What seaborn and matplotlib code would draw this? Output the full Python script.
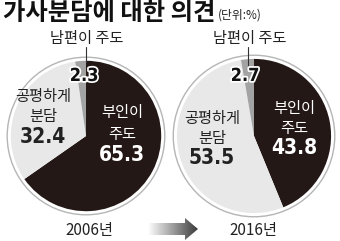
import matplotlib
matplotlib.use("Agg")
import matplotlib.pyplot as plt
import seaborn as sns
import numpy as np
from matplotlib.patches import Circle, Polygon
import matplotlib.patheffects as pe

sns.set_theme(style="white")
plt.rcParams['font.family'] = ['Noto Sans CJK KR', 'DejaVu Sans']

# Data
categories = ["부인이 주도", "공평하게 분담", "남편이 주도"]
years = ["2006년", "2016년"]
values_2006 = [65.3, 32.4, 2.3]
values_2016 = [43.8, 53.5, 2.7]
title = "가사분담에 대한 의견"
unit = "(단위:%)"

colors = ["#231815", "#e8e8e8", "#a3a3a3"]
W, H = 340, 241
fig = plt.figure(figsize=(W / 100, H / 100), dpi=100)
fig.patch.set_facecolor("white")

KR = ['Noto Sans CJK KR', 'DejaVu Sans']
NUM = dict(family='DejaVu Sans', fontstretch='condensed', fontweight='bold')


def pie_axes(cx, cy, r):
    ax = fig.add_axes([(cx - r) / W, (H - cy - r) / H, 2 * r / W, 2 * r / H])
    ax.set_xlim(-1, 1)
    ax.set_ylim(-1, 1)
    ax.set_aspect("equal")
    ax.axis("off")
    return ax


for vals, (cx, cy, r) in zip([values_2006, values_2016], [(86, 136, 80), (254, 136, 82)]):
    ax = pie_axes(cx, cy, r)
    ax.add_patch(Circle((0, 0), 0.985, facecolor="white", edgecolor="#b5b5b5", lw=1.0, zorder=0))
    ax.pie(vals, colors=colors, startangle=90, counterclock=False, radius=0.94,
           wedgeprops=dict(edgecolor="none"))
    ax.set_xlim(-1, 1)
    ax.set_ylim(-1, 1)

# overlay for text in pixel coordinates
ov = fig.add_axes([0, 0, 1, 1], zorder=10)
ov.set_xlim(0, W)
ov.set_ylim(H, 0)
ov.axis("off")
ov.patch.set_alpha(0)

ov.text(3, 13, title, fontsize=17.5, fontweight="heavy", family=KR, ha="left", va="center", color="#111")
ov.text(218, 15, unit, fontsize=8.5, family=KR, ha="left", va="center", color="#222")

stroke = [pe.withStroke(linewidth=2.5, foreground="white")]

# left pie labels
ov.text(87, 39, categories[2], fontsize=11, family=KR, ha="center", va="center", color="#222")
ov.plot([86, 86], [47, 62], color="#333", lw=0.8)
ov.text(84, 76, f"{values_2006[2]}", fontsize=13, **NUM, ha="center",
        va="center", color="#111", path_effects=stroke)
ov.text(43, 97, "공평하게", fontsize=11, family=KR, ha="center", va="center", color="#222")
ov.text(43, 117, "분담", fontsize=11, family=KR, ha="center", va="center", color="#222")
ov.text(43, 137, f"{values_2006[1]}", fontsize=15, **NUM, ha="center",
        va="center", color="#222")
ov.text(122, 113, "부인이", fontsize=11, family=KR, ha="center", va="center", color="white")
ov.text(122, 134, "주도", fontsize=11, family=KR, ha="center", va="center", color="white")
ov.text(122, 155, f"{values_2006[0]}", fontsize=15, **NUM, ha="center",
        va="center", color="white")

# right pie labels
ov.text(250, 39, categories[2], fontsize=11, family=KR, ha="center", va="center", color="#222")
ov.plot([248, 248], [47, 66], color="#333", lw=0.8)
ov.text(245, 76, f"{values_2016[2]}", fontsize=13, **NUM, ha="center",
        va="center", color="#111", path_effects=stroke)
ov.text(212, 118, "공평하게", fontsize=11, family=KR, ha="center", va="center", color="#222")
ov.text(212, 138, "분담", fontsize=11, family=KR, ha="center", va="center", color="#222")
ov.text(212, 158, f"{values_2016[1]}", fontsize=15, **NUM, ha="center",
        va="center", color="#222")
ov.text(294, 108, "부인이", fontsize=11, family=KR, ha="center", va="center", color="white")
ov.text(294, 128, "주도", fontsize=11, family=KR, ha="center", va="center", color="white")
ov.text(294, 148, f"{values_2016[0]}", fontsize=15, **NUM, ha="center",
        va="center", color="white")

# years
ov.text(89, 231, years[0], fontsize=11, family=KR, ha="center", va="center", color="#222")
ov.text(253, 231, years[1], fontsize=11, family=KR, ha="center", va="center", color="#222")

# gradient arrow
ay = 229
pts = [(148, ay - 6), (185, ay - 6), (185, ay - 11), (198, ay), (185, ay + 11), (185, ay + 6), (148, ay + 6)]
poly = Polygon(pts, closed=True, facecolor="none", edgecolor="none", transform=ov.transData)
ov.add_patch(poly)
grad = np.linspace(0, 1, 256).reshape(1, -1)
im = ov.imshow(grad, cmap=matplotlib.colors.LinearSegmentedColormap.from_list("g", ["#ffffff", "#3a3a3a"]),
               extent=[148, 198, ay + 12, ay - 12], aspect="auto", zorder=5)
im.set_clip_path(poly)
ov.set_xlim(0, W)
ov.set_ylim(H, 0)

fig.savefig("out.png", dpi=100)
